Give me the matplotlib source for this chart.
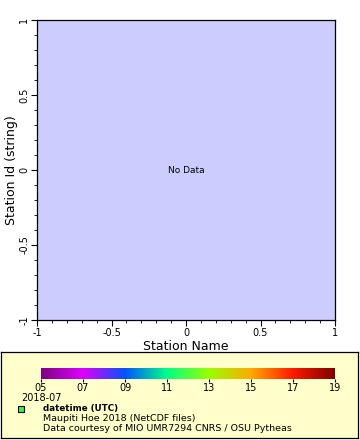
import matplotlib
matplotlib.use("Agg")
import matplotlib.pyplot as plt
import numpy as np
from matplotlib.colors import LinearSegmentedColormap
from matplotlib.ticker import MultipleLocator
import matplotlib.patches as mpatches

# Data / labels
x_limits = [-1, 1]
y_limits = [-1, 1]
x_ticks = [-1, -0.5, 0, 0.5, 1]
x_tick_labels = ["-1", "-0.5", "0", "0.5", "1"]
y_ticks = [-1, -0.5, 0, 0.5, 1]
y_tick_labels = ["-1", "-0.5", "0", "0.5", "1"]
cbar_ticks = [5, 7, 9, 11, 13, 15, 17, 19]
cbar_tick_labels = ["05", "07", "09", "11", "13", "15", "17", "19"]
cbar_colors = ["#800080", "#dd00ff", "#0055ff", "#00ff88", "#99ff00",
               "#ffaa00", "#ff1a00", "#800000"]
x_label = "Station Name"
y_label = "Station Id (string)"
no_data_text = "No Data"
cbar_period = "2018-07"
legend_title = "datetime (UTC)"
legend_lines = ["Maupiti Hoe 2018 (NetCDF files)",
                "Data courtesy of MIO UMR7294 CNRS / OSU Pytheas"]

W, H = 360, 440
fig = plt.figure(figsize=(W / 100, H / 100), dpi=100)

def fx(px):
    return px / W

def fy(py):
    return 1 - py / H

# Main axes: left 37, right 335, top 20, bottom 320
ax = fig.add_axes([fx(37), fy(320), fx(335) - fx(37), fy(20) - fy(320)])
ax.set_facecolor("#ccccff")
ax.set_xlim(*x_limits)
ax.set_ylim(*y_limits)
ax.set_xticks(x_ticks)
ax.set_xticklabels(x_tick_labels)
ax.set_yticks(y_ticks)
ax.set_yticklabels(y_tick_labels, rotation=90, va="center")
ax.xaxis.set_minor_locator(MultipleLocator(0.1))
ax.yaxis.set_minor_locator(MultipleLocator(0.1))
ax.tick_params(which="major", direction="out", length=4, width=0.8,
               labelsize=7, pad=1.5, top=False, right=False)
ax.tick_params(which="minor", direction="out", length=2, width=0.6,
               top=False, right=False)
for s in ax.spines.values():
    s.set_linewidth(0.9)
ax.set_xlabel(x_label, fontsize=9, labelpad=2)
ax.set_ylabel(y_label, fontsize=9, labelpad=1)
ax.text(0, 0, no_data_text, ha="center", va="center", fontsize=6.5)

# Legend box
leg = fig.add_axes([fx(1), fy(438), fx(358) - fx(1), fy(352) - fy(438)])
leg.set_xlim(0, 1)
leg.set_ylim(0, 1)
leg.set_facecolor("#ffffcc")
leg.set_xticks([])
leg.set_yticks([])
for s in leg.spines.values():
    s.set_linewidth(0.9)

# Colorbar
cmap = LinearSegmentedColormap.from_list("erddap_rainbow",
                                         list(zip(np.linspace(0, 1, len(cbar_colors)), cbar_colors)))
cax = fig.add_axes([fx(41), fy(379), fx(335) - fx(41), fy(368) - fy(379)])
grad = np.linspace(cbar_ticks[0], cbar_ticks[-1], 512).reshape(1, -1)
cax.imshow(grad, aspect="auto", cmap=cmap,
           extent=[cbar_ticks[0], cbar_ticks[-1], 0, 1])
cax.set_xlim(cbar_ticks[0], cbar_ticks[-1])
cax.set_yticks([])
cax.set_xticks(cbar_ticks)
cax.set_xticklabels(cbar_tick_labels)
cax.tick_params(axis="x", direction="out", length=2.5, width=0.8, labelsize=7, pad=0.5)
for s in cax.spines.values():
    s.set_visible(False)

fig.text(fx(21), fy(398), cbar_period, fontsize=7, ha="left", va="center")

# Legend marker and text
fig.patches.append(mpatches.Rectangle((fx(18), fy(412)), fx(6), fy(406) - fy(412),
                                      transform=fig.transFigure, facecolor="#44ee44",
                                      edgecolor="black", linewidth=0.8))
fig.text(fx(43), fy(408.5), legend_title, fontsize=6.3, fontweight="bold",
         ha="left", va="center")
fig.text(fx(43), fy(418.5), legend_lines[0], fontsize=6.8, ha="left", va="center")
fig.text(fx(43), fy(428.5), legend_lines[1], fontsize=6.8, ha="left", va="center")

fig.savefig("out.png", dpi=100)
